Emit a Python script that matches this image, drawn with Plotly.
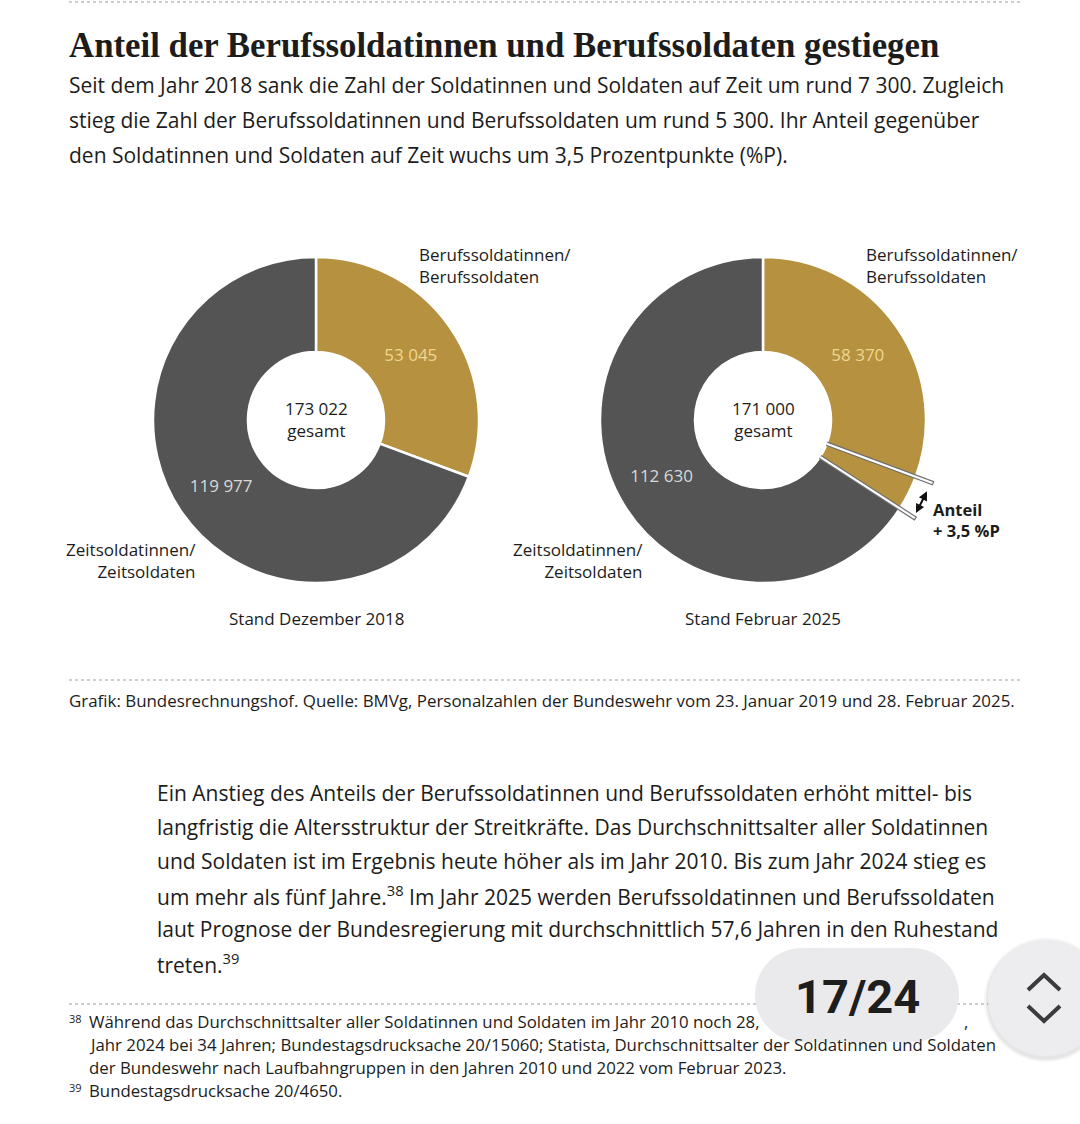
import math
import plotly.graph_objects as go

W, H = 1080, 1124

# ---------------- data ----------------
categories = ["Berufssoldatinnen/Berufssoldaten", "Zeitsoldatinnen/Zeitsoldaten"]
values_2018 = [53045, 119977]
values_2025 = [58370, 112630]
total_2018 = 173022
total_2025 = 171000
share_change_pp = 3.5
period_labels = ["Stand Dezember 2018", "Stand Februar 2025"]

GOLD = "#B69240"
GRAY = "#545454"
GOLD_TXT = "#F0D690"
GRAY_TXT = "#D9D9D9"
INK = "#1c1c1c"
SANS = "Open Sans"


def fx(x):
    return x / W


def fy(y):
    return 1 - y / H


def fmt(v):
    return f"{v:,}".replace(",", " ")


# geometry of donuts (pixels)
centers = [(316, 420), (763, 420)]
R_OUT = 163
R_IN = 68
hole = R_IN / R_OUT

fig = go.Figure()

# 2018 donut
cx, cy = centers[0]
fig.add_trace(go.Pie(
    values=values_2018, labels=categories, sort=False, direction="clockwise", rotation=0,
    hole=hole, marker=dict(colors=[GOLD, GRAY], line=dict(color="white", width=2.5)),
    text=[fmt(v) for v in values_2018], textinfo="text", textposition="inside",
    insidetextorientation="horizontal",
    textfont=dict(family=SANS, size=17, color=[GOLD_TXT, GRAY_TXT]),
    domain=dict(x=[fx(cx - R_OUT), fx(cx + R_OUT)], y=[fy(cy + R_OUT), fy(cy - R_OUT)]),
    showlegend=False, hoverinfo="label+value",
))

# 2025 donut: gold split into share at 2018 level and the increase
share_2018 = values_2018[0] / total_2018
base_2025 = share_2018 * total_2025
extra_2025 = values_2025[0] - base_2025
cx2, cy2 = centers[1]
fig.add_trace(go.Pie(
    values=[base_2025, extra_2025, values_2025[1]],
    labels=[categories[0], categories[0] + " (Zuwachs)", categories[1]],
    sort=False, direction="clockwise", rotation=0, hole=hole,
    marker=dict(colors=[GOLD, GOLD, GRAY], line=dict(color="white", width=2.5)),
    text=[fmt(values_2025[0]), " ", fmt(values_2025[1])], textinfo="text", textposition="inside",
    insidetextorientation="horizontal",
    textfont=dict(family=SANS, size=17, color=[GOLD_TXT, GOLD_TXT, GRAY_TXT]),
    domain=dict(x=[fx(cx2 - R_OUT), fx(cx2 + R_OUT)], y=[fy(cy2 + R_OUT), fy(cy2 - R_OUT)]),
    showlegend=False, hoverinfo="label+value",
))

shapes = []
annotations = []


def text(x, y, s, size=16, color=INK, anchor="left", family=SANS, yanchor="middle"):
    annotations.append(dict(
        x=fx(x), y=fy(y), xref="paper", yref="paper", text=s, showarrow=False,
        xanchor=anchor, yanchor=yanchor, align=anchor if anchor != "center" else "center",
        font=dict(family=family, size=size, color=color),
    ))


# dotted rules
for yy, x1 in [(2, 1020), (680, 1020), (1004, 1010)]:
    shapes.append(dict(type="line", xref="paper", yref="paper", x0=fx(69), x1=fx(x1),
                       y0=fy(yy), y1=fy(yy), line=dict(color="#bdbdbd", width=1.5, dash="dot")))

# title + subtitle
text(67, 45, "<b>Anteil der Berufssoldatinnen und Berufssoldaten gestiegen</b>", size=34.8,
     family="Liberation Serif")
sub_lines = [
    "Seit dem Jahr 2018 sank die Zahl der Soldatinnen und Soldaten auf Zeit um rund 7 300. Zugleich",
    "stieg die Zahl der Berufssoldatinnen und Berufssoldaten um rund 5 300. Ihr Anteil gegenüber",
    "den Soldatinnen und Soldaten auf Zeit wuchs um 3,5 Prozentpunkte (%P).",
]
for i, s in enumerate(sub_lines):
    text(67, 85 + 35 * i, s, size=21)

# donut labels
totals = [total_2018, total_2025]
for i, (cxx, cyy) in enumerate(centers):
    text(cxx, cyy - 1, f"{fmt(totals[i])}<br>gesamt", size=17, anchor="center")
    text(cxx + 101, cyy - 154, "Berufssoldatinnen/<br>Berufssoldaten", size=17)
    text(cxx - 118, cyy + 140, "Zeitsoldatinnen/<br>Zeitsoldaten", size=17, anchor="right")
    text(cxx, cyy + 198, period_labels[i], size=17, anchor="center")

# bracket for the share increase in 2025 donut
a1 = 360 * share_2018
a2 = 360 * values_2025[0] / total_2025


def pol(cxx, cyy, r, ang):
    t = math.radians(ang)
    return cxx + r * math.sin(t), cyy - r * math.cos(t)


R_EXT = 182
for ang in (a1, a2):
    x0, y0 = pol(cx2, cy2, R_IN, ang)
    x1, y1 = pol(cx2, cy2, R_EXT, ang)
    shapes.append(dict(type="line", xref="paper", yref="paper", layer="above",
                       x0=fx(x0), y0=fy(y0), x1=fx(x1), y1=fy(y1),
                       line=dict(color="#6e6e6e", width=4.5)))
    x1b, y1b = pol(cx2, cy2, R_EXT - 1.2, ang)
    shapes.append(dict(type="line", xref="paper", yref="paper", layer="above",
                       x0=fx(x0), y0=fy(y0), x1=fx(x1b), y1=fy(y1b),
                       line=dict(color="white", width=2.2)))

R_ARR = 179
sx, sy = pol(cx2, cy2, R_ARR, a1 + 2.6)
ex, ey = pol(cx2, cy2, R_ARR, a2 - 1.6)
annotations.append(dict(
    x=fx(ex), y=fy(ey), xref="paper", yref="paper", ax=sx - ex, ay=sy - ey, text="",
    showarrow=True, arrowside="end+start", arrowhead=2, startarrowhead=2,
    arrowsize=0.9, startarrowsize=0.9, arrowwidth=2, arrowcolor="#111",
    standoff=0, startstandoff=0,
))
text(931, 520, "<b>Anteil<br>+ 3,5 %P</b>", size=16.5)

# source
text(67, 700, "Grafik: Bundesrechnungshof. Quelle: BMVg, Personalzahlen der Bundeswehr vom 23. Januar 2019 und 28. Februar 2025.",
     size=16.9)

# body paragraph
para = [
    "Ein Anstieg des Anteils der Berufssoldatinnen und Berufssoldaten erhöht mittel- bis",
    "langfristig die Altersstruktur der Streitkräfte. Das Durchschnittsalter aller Soldatinnen",
    "und Soldaten ist im Ergebnis heute höher als im Jahr 2010. Bis zum Jahr 2024 stieg es",
    "um mehr als fünf Jahre.<sup>38</sup> Im Jahr 2025 werden Berufssoldatinnen und Berufssoldaten",
    "laut Prognose der Bundesregierung mit durchschnittlich 57,6 Jahren in den Ruhestand",
    "treten.<sup>39</sup>",
]
for i, s in enumerate(para):
    text(155, 793 + 34 * i, s, size=21)

# footnotes
text(67, 1018, "38", size=11)
text(87, 1021, "Während das Durchschnittsalter aller Soldatinnen und Soldaten im Jahr 2010 noch 28,", size=16.8)
text(962, 1021, ",", size=16.8)
text(87, 1044, "Jahr 2024 bei 34 Jahren; Bundestagsdrucksache 20/15060; Statista, Durchschnittsalter der Soldatinnen und Soldaten", size=16.8)
text(87, 1067, "der Bundeswehr nach Laufbahngruppen in den Jahren 2010 und 2022 vom Februar 2023.", size=16.8)
text(67, 1087, "39", size=11)
text(87, 1090, "Bundestagsdrucksache 20/4650.", size=16.8)

# page indicator overlay
PILL = "#EAEAED"
pr = 47
pl, prr, pcy = 802, 912, 995
shapes.append(dict(type="rect", xref="paper", yref="paper", layer="above", x0=fx(pl), x1=fx(prr),
                   y0=fy(pcy + pr), y1=fy(pcy - pr), fillcolor=PILL, line=dict(width=0)))
for ccx in (pl, prr):
    shapes.append(dict(type="circle", xref="paper", yref="paper", layer="above",
                       x0=fx(ccx - pr), x1=fx(ccx + pr), y0=fy(pcy + pr), y1=fy(pcy - pr),
                       fillcolor=PILL, line=dict(width=0)))
text(857, 997, "<b>17/24</b>", size=47, family="Roboto", color="#1e1e1e", anchor="center")

bcx, bcy, br = 1046, 998, 58
for extra, col in [(4, "rgba(0,0,0,0.04)"), (2, "rgba(0,0,0,0.06)")]:
    shapes.append(dict(type="circle", xref="paper", yref="paper", layer="above",
                       x0=fx(bcx - br - extra), x1=fx(bcx + br + extra),
                       y0=fy(bcy + br + extra + 2), y1=fy(bcy - br - extra + 2),
                       fillcolor=col, line=dict(width=0)))
shapes.append(dict(type="circle", xref="paper", yref="paper", layer="above",
                   x0=fx(bcx - br), x1=fx(bcx + br), y0=fy(bcy + br), y1=fy(bcy - br),
                   fillcolor="#EDEDF0", line=dict(width=0)))
for pts in ([(1028, 990), (1044, 975), (1060, 990)], [(1028, 1006), (1044, 1021), (1060, 1006)]):
    path = "M {} {} L {} {} L {} {}".format(*[v for p in pts for v in (fx(p[0]), fy(p[1]))])
    shapes.append(dict(type="path", xref="paper", yref="paper", layer="above", path=path,
                       line=dict(color="#3b3b3b", width=4)))

fig.update_layout(
    width=W, height=H, margin=dict(l=0, r=0, t=0, b=0),
    paper_bgcolor="white", plot_bgcolor="white",
    shapes=shapes, annotations=annotations, separators=", ",
    showlegend=False,
)
fig.write_html(
    "out.html",
    config={"displayModeBar": False},
    post_script="document.body.style.margin='0px'; document.body.style.overflow='hidden';",
)
